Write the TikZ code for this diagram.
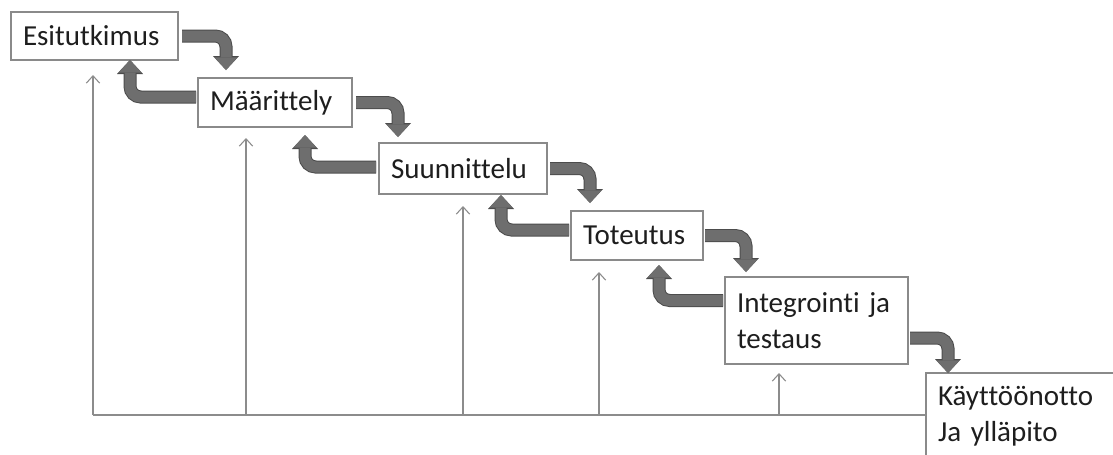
\documentclass[tikz,border=0pt]{standalone}
\usepackage{fontspec}
\setmainfont{Carlito}[Ligatures=CommonOff]
\usetikzlibrary{arrows.meta,calc}
\definecolor{framegray}{HTML}{8A8A8A}
\definecolor{feedgray}{HTML}{8C8C8C}
\definecolor{flowfill}{HTML}{6E6E6E}
\definecolor{flowedge}{HTML}{4C4C4C}
\definecolor{inkgray}{HTML}{1E1E1E}
\tikzset{
  phase/.style={draw=framegray, line width=1pt, anchor=north west, inner xsep=9pt,
    inner ysep=0pt, outer sep=0pt, align=left, text=inkgray,
    font=\fontsize{21.75}{27}\selectfont},
  flowouter/.style={draw=flowedge, line width=9.75pt, rounded corners=8pt,
    -{Triangle[width=19.5pt,length=10.5pt,line width=0pt]}},
  flowinner/.style={draw=flowfill, line width=8.25pt, rounded corners=8pt,
    -{Triangle[width=17.25pt,length=9.4pt,line width=0pt]}},
  feed/.style={draw=feedgray, line width=0.8pt, -{Straight Barb[length=5.5pt,width=10pt]}},
  busline/.style={draw=feedgray, line width=0.8pt},
}
% thick bent arrow between two phases, drawn as an edge layer and a fill layer
\newcommand\phaseflow[2]{%
  \draw[flowouter] #1 -| #2;
  \draw[flowinner] #1 -| #2;}
\begin{document}
\begin{tikzpicture}[x=0.75pt,y=-0.75pt]
\useasboundingbox (0,0) rectangle (1113,454);
\clip (0,0) rectangle (1113,454);
\fill[white] (0,0) rectangle (1113,454);

% phases
\node[phase, text width=107.25pt, minimum height=36pt]    (b1) at (11,12)   {Esitutkimus};
\node[phase, text width=97.5pt,   minimum height=36.75pt] (b2) at (198,78)  {Määrittely};
\node[phase, text width=108pt,    minimum height=38.25pt] (b3) at (379,143) {Suunnittelu};
\node[phase, text width=81pt,     minimum height=36.75pt] (b4) at (571,211) {Toteutus};
\node[phase, text width=119.25pt, minimum height=65.25pt] (b5) at (725,277) {Integrointi ja\\testaus};
\node[phase, text width=135pt,    minimum height=65.25pt] (b6) at (926,373) {Käyttöönotto\\Ja ylläpito};

% forward flow
\phaseflow{($(b1.east)+(4,0)$)}{($(b2.north west)+(28,-8)$)}
\phaseflow{($(b2.east)+(4,0)$)}{($(b3.north west)+(19,-6)$)}
\phaseflow{($(b3.east)+(3,0)$)}{($(b4.north west)+(19,-8)$)}
\phaseflow{($(b4.east)+(2,0)$)}{($(b5.north west)+(21,-5)$)}
\phaseflow{($(b5.east)+(2,17.5)$)}{($(b6.north west)+(22,0)$)}

% backward flow
\phaseflow{($(b2.west)+(-2,-5.5)$)}{($(b1.south west)+(119,0)$)}
\phaseflow{($(b3.west)+(-3,-1.5)$)}{($(b2.south west)+(107,8)$)}
\phaseflow{($(b4.west)+(-2,-5.5)$)}{($(b3.south west)+(122,1)$)}
\phaseflow{($(b5.west)+(-2,-20)$)}{($(b4.south west)+(88,5)$)}

% feedback bus from the last phase
\coordinate (bus) at (93,415);
\coordinate (t1) at ($(b1.south west)+(82,15)$);
\coordinate (t2) at ($(b2.south west)+(48,11)$);
\coordinate (t3) at ($(b3.south west)+(84,12)$);
\coordinate (t4) at ($(b4.south west)+(28,12)$);
\coordinate (t5) at ($(b5.south west)+(54,9)$);
\draw[busline] (b6.west |- bus) -- (bus);
\draw[feed] (bus) -- (t1);
\draw[feed] (t2 |- bus) -- (t2);
\draw[feed] (t3 |- bus) -- (t3);
\draw[feed] (t4 |- bus) -- (t4);
\draw[feed] (t5 |- bus) -- (t5);
\end{tikzpicture}
\end{document}
